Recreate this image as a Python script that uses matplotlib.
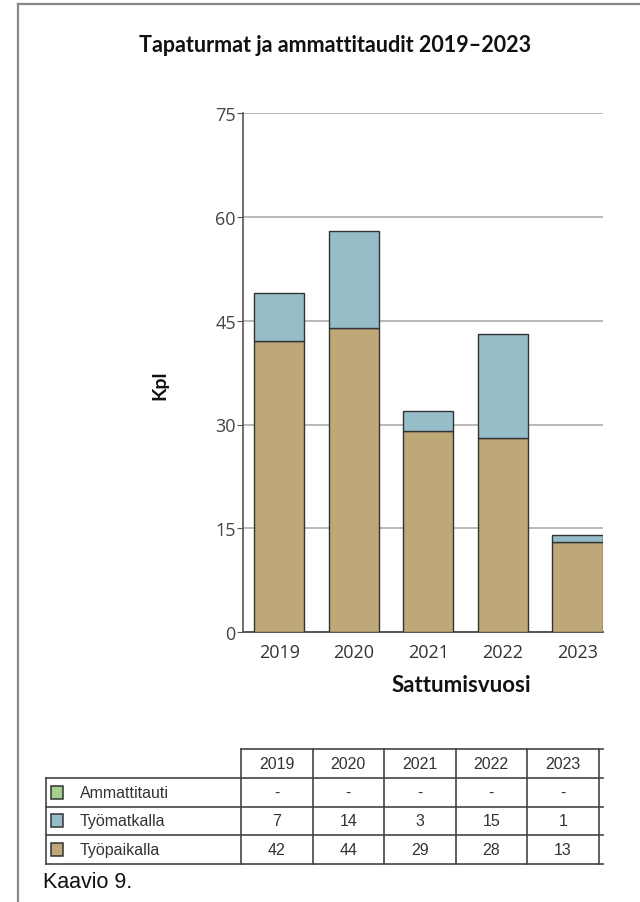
import matplotlib.pyplot as plt
from matplotlib.patches import Rectangle
from matplotlib.lines import Line2D
import numpy as np

# Data
years = ['2019', '2020', '2021', '2022', '2023']
series_names = ['Ammattitauti', 'Työmatkalla', 'Työpaikalla']
ammattitauti = [0, 0, 0, 0, 0]
tyomatkalla = [7, 14, 3, 15, 1]
tyopaikalla = [42, 44, 29, 28, 13]
yticks = [0, 15, 30, 45, 60, 75]

colors = {'Ammattitauti': '#A6D08E', 'Työmatkalla': '#96BEC8', 'Työpaikalla': '#BEA878'}

W, H = 640, 903
fig = plt.figure(figsize=(W / 100, H / 100), dpi=100)

# Frame of the page
fig.add_artist(Line2D([18 / W, 1], [1 - 5 / H, 1 - 5 / H], color='#888888', lw=1.6))
fig.add_artist(Line2D([18 / W, 18 / W], [0, 1 - 5 / H], color='#888888', lw=1.6))

# Chart
ax = fig.add_axes([242.7 / W, 1 - 633.3 / H, 360 / W, (633.3 - 113.8) / H])
x = np.arange(len(years))
ax.bar(x, tyopaikalla, width=0.675, color=colors['Työpaikalla'], edgecolor='#333333', lw=1.0, zorder=3)
ax.bar(x, tyomatkalla, bottom=tyopaikalla, width=0.675, color=colors['Työmatkalla'],
       edgecolor='#333333', lw=1.0, zorder=3)

ax.set_xlim(-0.49, 4.34)
ax.set_ylim(0, 75)
ax.set_yticks(yticks)
ax.set_xticks(x)
ax.set_xticklabels(years)
ax.grid(axis='y', color='#b3b3b3', lw=1.3, zorder=0)
for s in ['top', 'right']:
    ax.spines[s].set_visible(False)
ax.spines['left'].set_color('#555555')
ax.spines['bottom'].set_color('#555555')
ax.spines['left'].set_linewidth(1.2)
ax.spines['bottom'].set_linewidth(1.4)
ax.tick_params(axis='y', length=4, color='#555555', labelsize=13, labelcolor='#444444', pad=1)
ax.tick_params(axis='x', length=0, labelsize=13, labelcolor='#333333', pad=8)
for lab in ax.get_xticklabels() + ax.get_yticklabels():
    lab.set_fontfamily('Open Sans')

fig.text(335 / W, 1 - 45 / H, 'Tapaturmat ja ammattitaudit 2019–2023', ha='center', va='center',
         fontsize=15.5, fontweight='bold', family='Lato', color='#111111')
fig.text(160 / W, 1 - 385 / H, 'Kpl', rotation=90, ha='center', va='center',
         fontsize=14, fontweight='bold', family='Lato', color='#111111')
fig.text(461 / W, 1 - 686 / H, 'Sattumisvuosi', ha='center', va='center',
         fontsize=16, fontweight='bold', family='Lato', color='#111111')

# Table
col_x = [241, 312.7, 384, 455.5, 527, 599]
row_y = [750, 779, 807.5, 836, 865]
label_left = 45.7
lc = '#444444'
tlw = 1.2


def hline(y, x0, x1):
    fig.add_artist(Line2D([x0 / W, x1 / W], [1 - y / H, 1 - y / H], color=lc, lw=tlw))


def vline(xp, y0, y1):
    fig.add_artist(Line2D([xp / W, xp / W], [1 - y0 / H, 1 - y1 / H], color=lc, lw=tlw))


hline(row_y[0], col_x[0], 603)
for y in row_y[1:]:
    hline(y, label_left, 603)
vline(label_left, row_y[1], row_y[-1])
for cx in col_x:
    vline(cx, row_y[0], row_y[-1])

for i, yr in enumerate(years):
    xc = (col_x[i] + col_x[i + 1]) / 2
    fig.text(xc / W, 1 - (row_y[0] + row_y[1]) / 2 / H, yr, ha='center', va='center',
             fontsize=11.5, family='Liberation Sans', color='#333333')

table_rows = [ammattitauti, tyomatkalla, tyopaikalla]
for r, (name, vals) in enumerate(zip(series_names, table_rows)):
    yc = (row_y[r + 1] + row_y[r + 2]) / 2
    fig.add_artist(Rectangle((50.5 / W, 1 - (yc + 6.5) / H), 12 / W, 13 / H,
                             facecolor=colors[name], edgecolor='#333333', lw=1.1))
    fig.text(80 / W, 1 - yc / H, name, ha='left', va='center', fontsize=11.5,
             family='Liberation Sans', color='#333333')
    for i, v in enumerate(vals):
        xc = (col_x[i] + col_x[i + 1]) / 2
        fig.text(xc / W, 1 - yc / H, '-' if v == 0 else str(v), ha='center', va='center',
                 fontsize=11.5, family='Liberation Sans', color='#333333')

fig.text(43 / W, 1 - 883 / H, 'Kaavio 9.', ha='left', va='center', fontsize=15.5,
         family='Liberation Sans', color='#111111')

fig.savefig('out.png', dpi=100)
